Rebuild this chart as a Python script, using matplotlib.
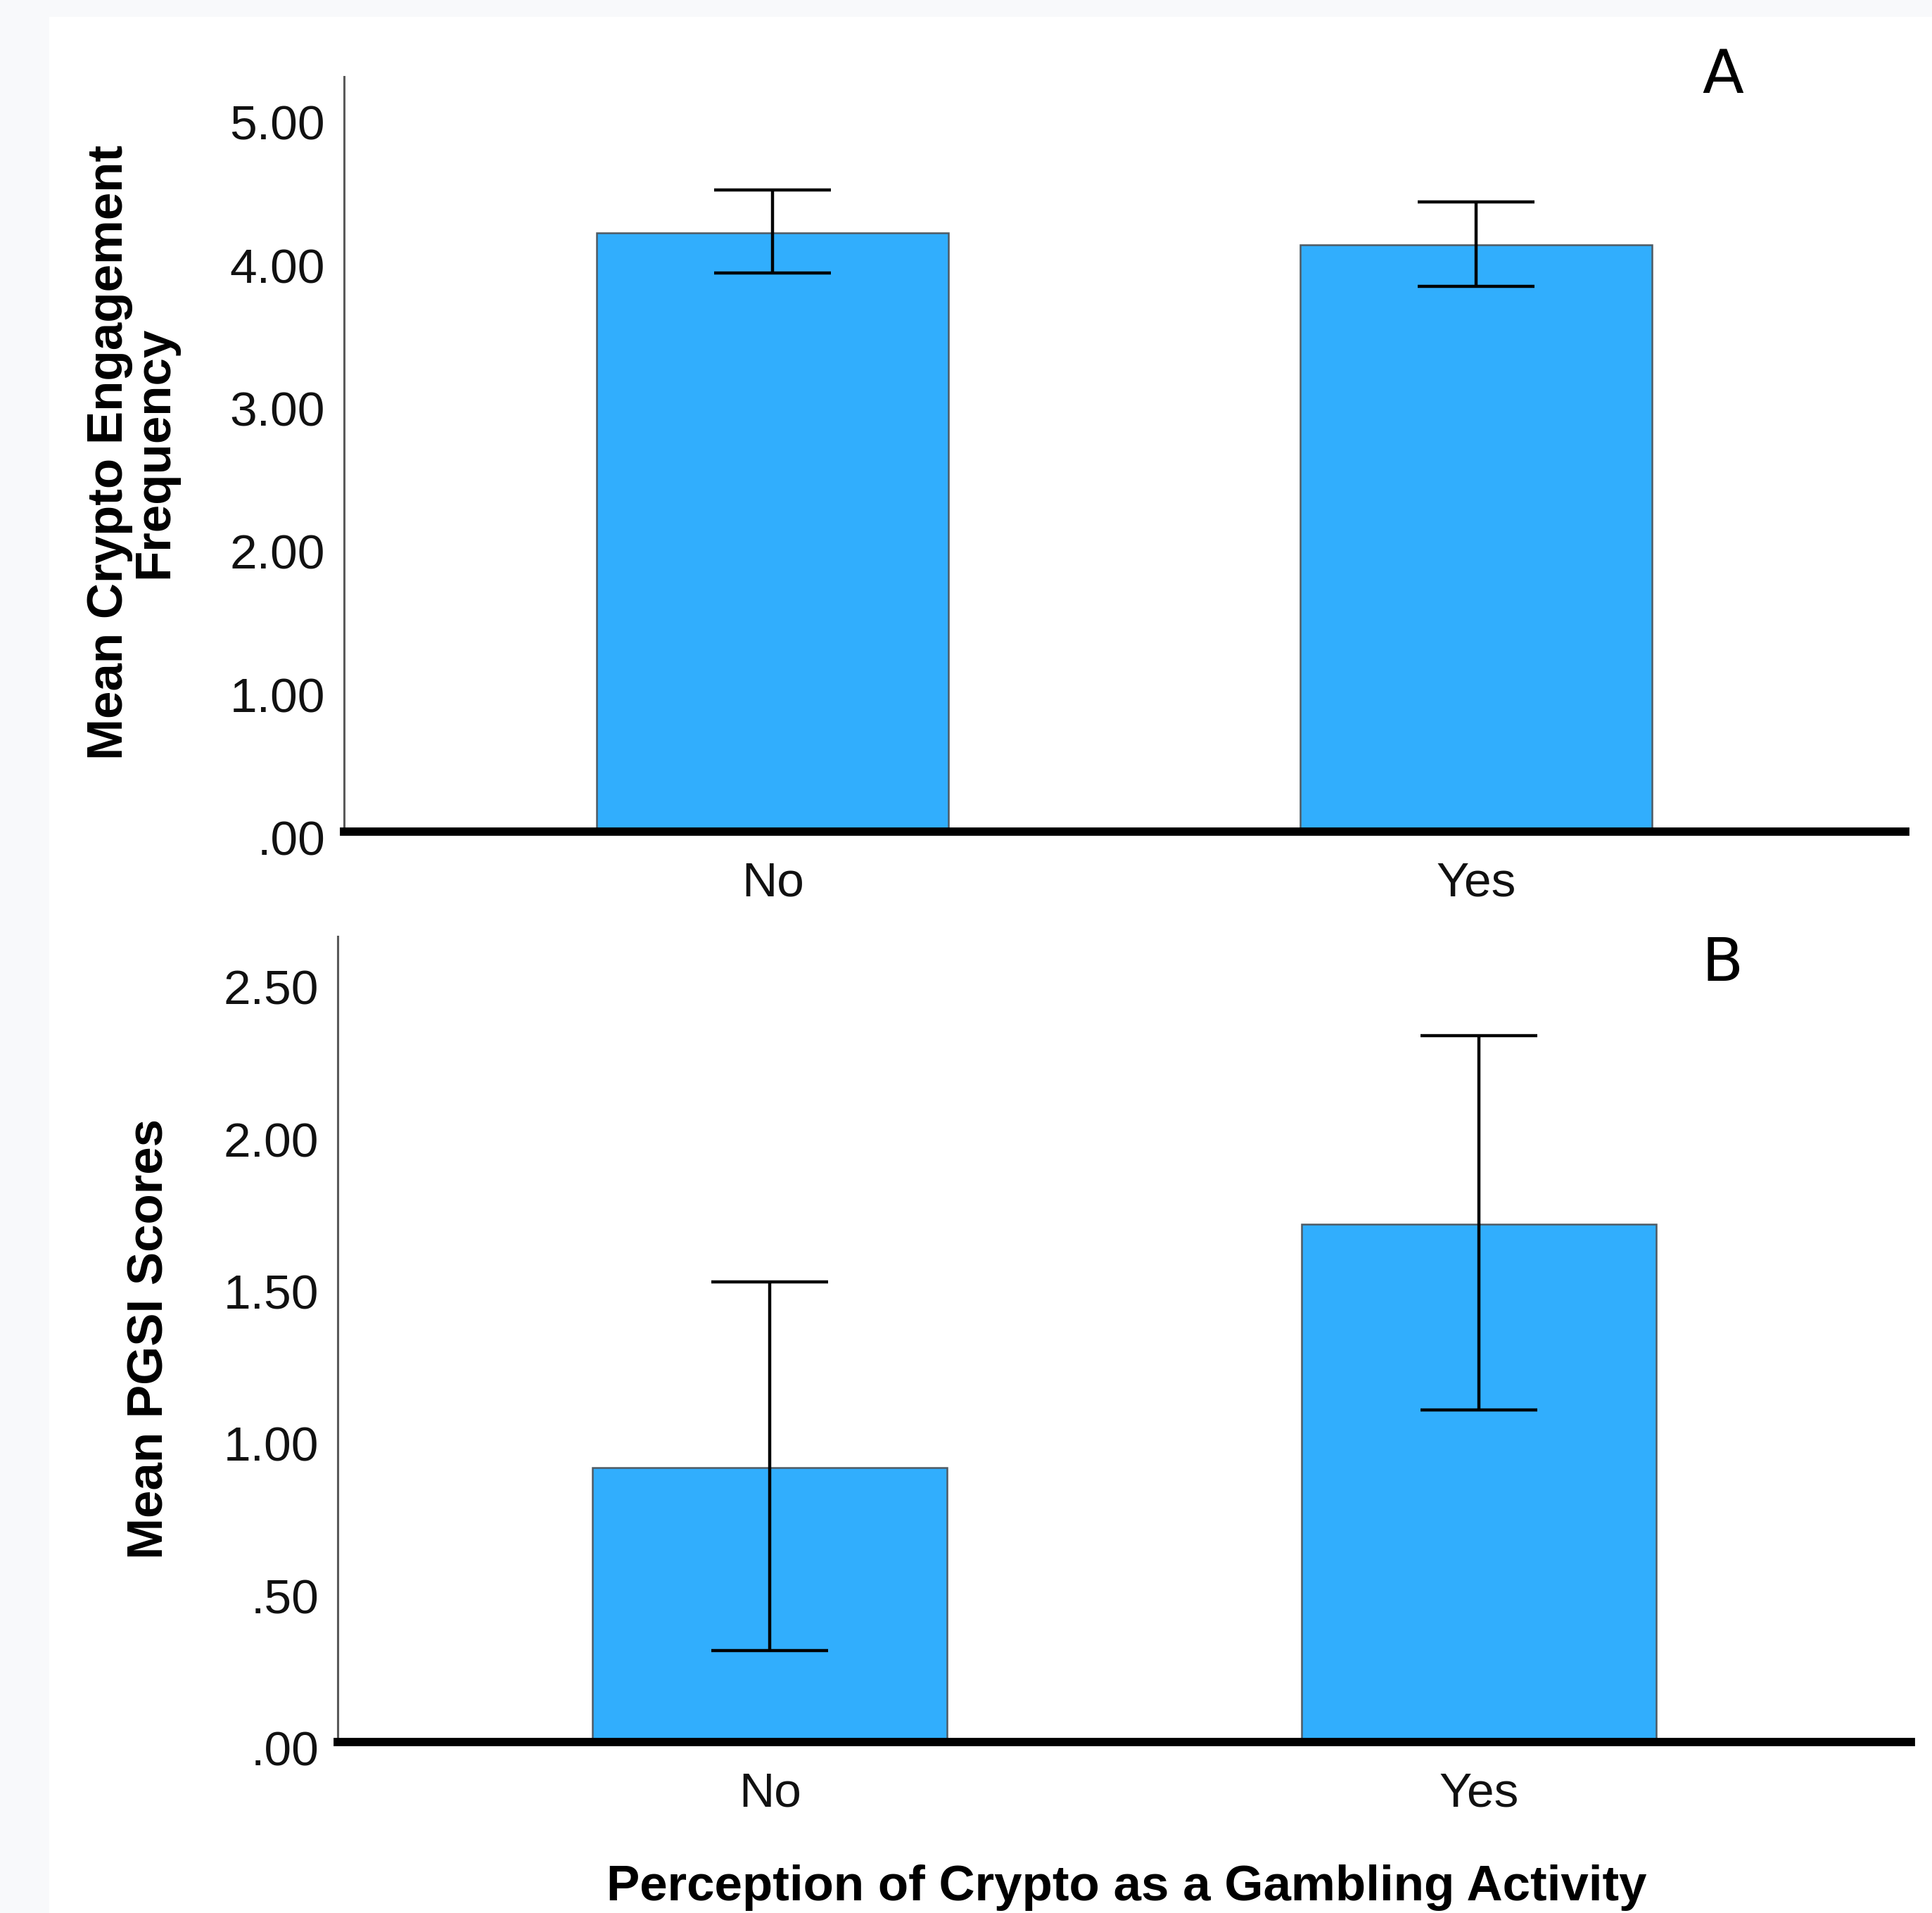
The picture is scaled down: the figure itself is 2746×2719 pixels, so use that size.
import matplotlib
matplotlib.use("Agg")
import matplotlib.pyplot as plt
from matplotlib.patches import Rectangle
from matplotlib.transforms import ScaledTranslation

# ========== DATA ==========
groups = ["No", "Yes"]

# panel A: mean crypto engagement frequency
engage_mean = [4.18, 4.10]
engage_lo = [3.90, 3.81]
engage_hi = [4.48, 4.40]
engage_ticks = [0, 1, 2, 3, 4, 5]
engage_ticklabels = [".00", "1.00", "2.00", "3.00", "4.00", "5.00"]

# panel B: mean PGSI scores
pgsi_mean = [0.90, 1.70]
pgsi_lo = [0.30, 1.09]
pgsi_hi = [1.51, 2.32]
pgsi_ticks = [0, 0.5, 1.0, 1.5, 2.0, 2.5]
pgsi_ticklabels = [".00", ".50", "1.00", "1.50", "2.00", "2.50"]
# ==========================

BAR_COLOR = "#31aefd"
TICK_FONT = ["Liberation Sans Narrow", "Liberation Sans", "DejaVu Sans"]
LABEL_FONT = ["Liberation Sans", "DejaVu Sans"]

fig = plt.figure(figsize=(27.46, 27.19), dpi=100)
fig.patch.set_facecolor("#f8f9fb")
fig.patches.append(Rectangle((0.0255, 0), 1, 0.991, transform=fig.transFigure,
                             facecolor="white", edgecolor="none", zorder=-10))


def draw_panel(ax, means, lo, hi, ticks, ticklabels, ylabel, ytop, ylabel_x, ylabel_y):
    x = range(len(groups))
    err = [[m - l for m, l in zip(means, lo)], [h - m for m, h in zip(means, hi)]]
    ax.bar(x, means, width=0.5, color=BAR_COLOR, edgecolor="#4f5a63",
           linewidth=1.8, zorder=2)
    ax.errorbar(x, means, yerr=err, fmt="none", ecolor="black", elinewidth=3.2,
                capsize=60, capthick=3.2, zorder=3)
    ax.set_xlim(-0.61, 1.61)
    ax.set_ylim(0, ytop)
    ax.set_xticks(list(x))
    ax.set_xticklabels(groups, fontsize=50, family=TICK_FONT, color="#111111")
    ax.set_yticks(ticks)
    ax.set_yticklabels(ticklabels, fontsize=50, family=TICK_FONT, color="#111111")
    ax.tick_params(axis="x", length=0, pad=30)
    ax.tick_params(axis="y", length=0, pad=19)
    # SPSS puts the value labels a little below the gridline position
    shift = ScaledTranslation(0, -6.5 / 72, fig.dpi_scale_trans)
    for lab in ax.get_yticklabels():
        lab.set_transform(lab.get_transform() + shift)
    for s in ["top", "right"]:
        ax.spines[s].set_visible(False)
    ax.spines["left"].set_color("#5a5a5a")
    ax.spines["left"].set_linewidth(2.2)
    ax.spines["bottom"].set_color("black")
    ax.spines["bottom"].set_linewidth(8.5)
    ax.spines["bottom"].set_zorder(4)
    ax.patch.set_alpha(0)
    fig.text(ylabel_x, ylabel_y, ylabel, rotation=90, ha="center", va="center",
             fontsize=51, fontweight="bold", family=LABEL_FONT, linespacing=0.95)


ax1 = fig.add_axes([0.1779, 0.5654, 0.8081, 0.3946])
draw_panel(ax1, engage_mean, engage_lo, engage_hi, engage_ticks, engage_ticklabels,
           "Mean Crypto Engagement\nFrequency", 5.275, 0.0685, 0.7637)

ax2 = fig.add_axes([0.1747, 0.0895, 0.8145, 0.4211])
draw_panel(ax2, pgsi_mean, pgsi_lo, pgsi_hi, pgsi_ticks, pgsi_ticklabels,
           "Mean PGSI Scores", 2.646, 0.0778, 0.300)

fig.text(0.8916, 0.960, "A", ha="center", va="center", fontsize=62, family="DejaVu Sans")
fig.text(0.8916, 0.4958, "B", ha="center", va="center", fontsize=62, family="DejaVu Sans")

fig.text(0.583, 0.0068, "Perception of Crypto as a Gambling Activity", ha="center",
         va="baseline", fontsize=51, fontweight="bold", family=LABEL_FONT)

fig.savefig("out.png", dpi=100, facecolor=fig.get_facecolor())
plt.close(fig)
